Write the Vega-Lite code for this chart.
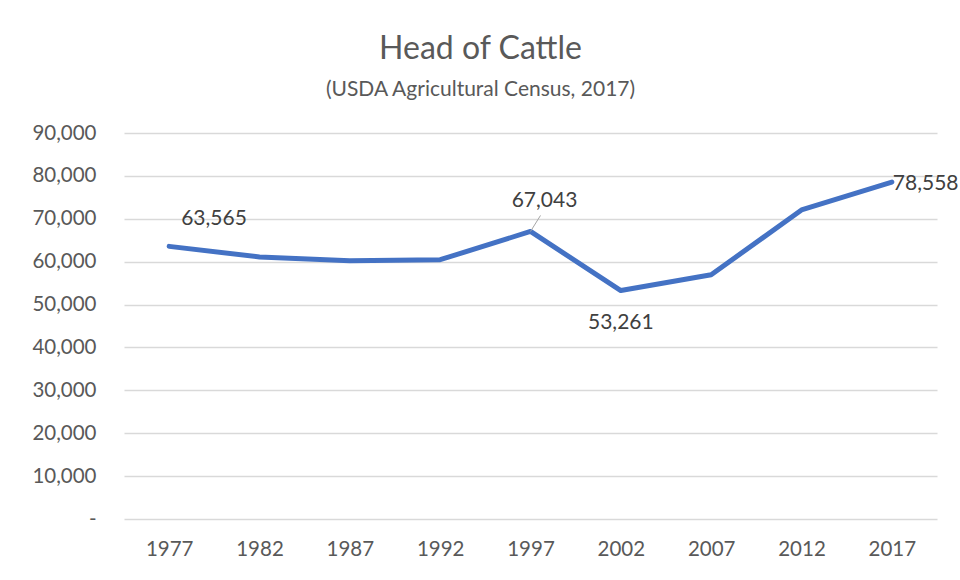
{
  "$schema": "https://vega.github.io/schema/vega-lite/v6.json",
  "width": 813,
  "height": 386,
  "autosize": {"type": "none"},
  "padding": {"left": 124, "top": 133, "right": 23, "bottom": 61},
  "background": "white",
  "config": {
    "font": "Lato",
    "view": {"stroke": null}
  },
  "title": {
    "text": "Head of Cattle",
    "subtitle": "(USDA Agricultural Census, 2017)",
    "anchor": "middle",
    "frame": "group",
    "dx": -50,
    "offset": 22,
    "fontSize": 32,
    "fontWeight": "normal",
    "color": "#595959",
    "subtitleFontSize": 21,
    "subtitleColor": "#595959",
    "subtitlePadding": 13,
    "font": "Lato",
    "subtitleFont": "Lato"
  },
  "data": {
    "values": [
      {"year": "1977", "head": 63565, "label": "63,565"},
      {"year": "1982", "head": 61100, "label": ""},
      {"year": "1987", "head": 60200, "label": ""},
      {"year": "1992", "head": 60450, "label": ""},
      {"year": "1997", "head": 67043, "label": "67,043"},
      {"year": "2002", "head": 53261, "label": "53,261"},
      {"year": "2007", "head": 56950, "label": ""},
      {"year": "2012", "head": 72050, "label": ""},
      {"year": "2017", "head": 78558, "label": "78,558"}
    ]
  },
  "encoding": {
    "x": {
      "field": "year",
      "type": "ordinal",
      "scale": {"type": "point", "padding": 0.5},
      "axis": {
        "title": null,
        "labelAngle": 0,
        "labelFontSize": 20.5,
        "labelColor": "#595959",
        "labelPadding": 20,
        "ticks": false,
        "domain": false,
        "grid": false
      }
    },
    "y": {
      "field": "head",
      "type": "quantitative",
      "scale": {"domain": [0, 90000], "nice": false},
      "axis": {
        "title": null,
        "values": [0, 10000, 20000, 30000, 40000, 50000, 60000, 70000, 80000, 90000],
        "labelExpr": "datum.value == 0 ? '-\u00a0\u00a0\u00a0\u00a0' : format(datum.value, ',')",
        "labelFontSize": 20.5,
        "labelColor": "#595959",
        "labelPadding": 28,
        "ticks": false,
        "domain": false,
        "grid": true,
        "gridColor": "#D9D9D9",
        "gridWidth": 1.3
      }
    }
  },
  "layer": [
    {
      "mark": {"type": "line", "color": "#4472C4", "strokeWidth": 5, "strokeCap": "round", "strokeJoin": "round"}
    },
    {
      "transform": [{"filter": "datum.year == '1997'"}],
      "mark": {"type": "rule", "color": "#A6A6A6", "strokeWidth": 1, "x2Offset": 10, "y2Offset": -16},
      "encoding": {
        "x2": {"field": "year"},
        "y2": {"field": "head"}
      }
    },
    {
      "transform": [{"filter": "datum.year == '1977'"}],
      "mark": {"type": "text", "align": "left", "baseline": "middle", "dx": 12, "dy": -27, "fontSize": 21, "color": "#404040"},
      "encoding": {"text": {"field": "label"}}
    },
    {
      "transform": [{"filter": "datum.year == '1997'"}],
      "mark": {"type": "text", "align": "center", "baseline": "middle", "dx": 14, "dy": -30, "fontSize": 21, "color": "#404040"},
      "encoding": {"text": {"field": "label"}}
    },
    {
      "transform": [{"filter": "datum.year == '2002'"}],
      "mark": {"type": "text", "align": "center", "baseline": "middle", "dx": 0, "dy": 32, "fontSize": 21, "color": "#404040"},
      "encoding": {"text": {"field": "label"}}
    },
    {
      "transform": [{"filter": "datum.year == '2017'"}],
      "mark": {"type": "text", "align": "left", "baseline": "middle", "dx": 1, "dy": 2, "fontSize": 21, "color": "#404040"},
      "encoding": {"text": {"field": "label"}}
    }
  ]
}
